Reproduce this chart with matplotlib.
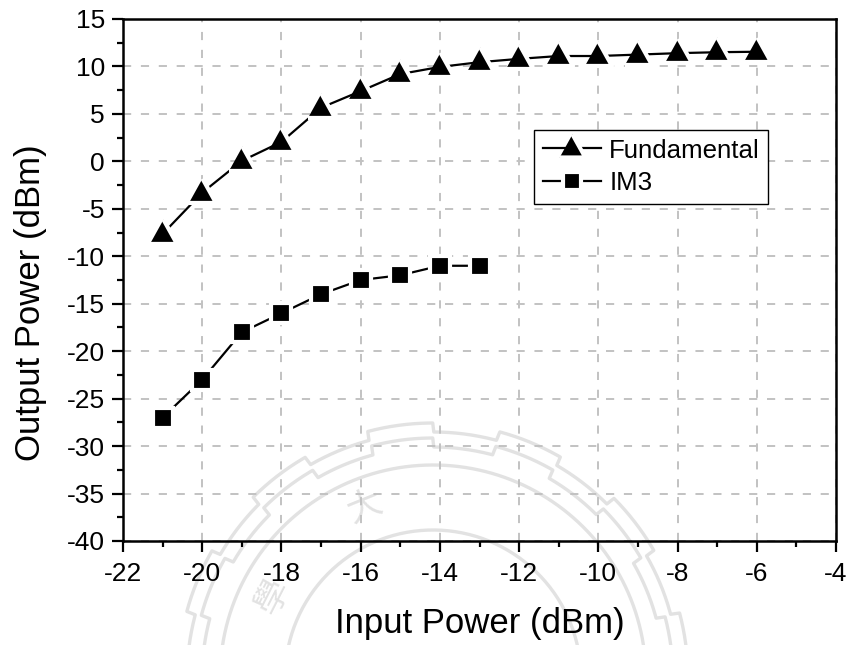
import numpy as np
import matplotlib
matplotlib.use('Agg')
import matplotlib.pyplot as plt
from matplotlib.ticker import MultipleLocator

plt.rcParams['font.family'] = ['Liberation Sans', 'DejaVu Sans']
plt.rcParams['axes.unicode_minus'] = False

# values
input_fund = [-21, -20, -19, -18, -17, -16, -15, -14, -13, -12, -11, -10, -9, -8, -7, -6]
fundamental = [-7.65, -3.3, 0.05, 2.05, 5.65, 7.4, 9.2, 9.95, 10.45, 10.8, 11.1, 11.1, 11.25, 11.4, 11.5, 11.55]
input_im3 = [-21, -20, -19, -18, -17, -16, -15, -14, -13]
im3 = [-27, -23, -18, -16, -14, -12.5, -12, -11, -11]
x_ticks = [-22, -20, -18, -16, -14, -12, -10, -8, -6, -4]
y_ticks = [-40, -35, -30, -25, -20, -15, -10, -5, 0, 5, 10, 15]

W, H = 850, 645
fig = plt.figure(figsize=(W/100, H/100), dpi=100)

# faint scanned-in seal behind the plot, in pixel coordinates
bg = fig.add_axes([0, 0, 1, 1], zorder=0)
bg.set_xlim(0, W)
bg.set_ylim(H, 0)
bg.axis('off')
seal = '#e2e2e2'
cx, cy = 433, 678
t = np.linspace(0, 2*np.pi, 400)
for r in [213, 148]:
    bg.plot(cx + r*np.cos(t), cy + r*np.sin(t), color=seal, lw=2.4)
# stepped outer ring
t2 = np.linspace(0, 2*np.pi, 1440)
for r0 in [246, 231]:
    r = r0 + 9*(np.floor(t2/(2*np.pi/24)) % 2)
    bg.plot(cx + r*np.cos(t2), cy + r*np.sin(t2), color=seal, lw=2.4)
bg.text(365, 508, '大', color=seal, fontsize=25, rotation=22, ha='center', va='center',
        family=['Noto Sans CJK TC', 'DejaVu Sans'])
bg.text(273, 597, '學', color=seal, fontsize=25, rotation=63, ha='center', va='center',
        family=['Noto Sans CJK TC', 'DejaVu Sans'])

ax = fig.add_axes([123/W, 1-541/H, (836-123)/W, (541-19)/H], zorder=1)
ax.patch.set_alpha(0)

ax.grid(True, which='major', color='#c2c2c2', lw=1.4, dashes=(4.2, 5))
ax.set_axisbelow(True)

# triangle sits a little above its point, as in the original
tri = [(-1, -0.7), (1, -0.7), (0, 1.1)]
ax.plot(input_fund, fundamental, '-', marker=tri, color='black', lw=1.6, ms=21.4, mfc='black',
        mec='white', mew=3, label='Fundamental', clip_on=False)
ax.plot(input_im3, im3, '-s', color='black', lw=1.6, ms=14, mfc='black',
        mec='white', mew=3, label='IM3', clip_on=False)

ax.set_xlim(-22, -4)
ax.set_ylim(-40, 15)
ax.set_xticks(x_ticks)
ax.set_yticks(y_ticks)
ax.xaxis.set_minor_locator(MultipleLocator(1))
ax.yaxis.set_minor_locator(MultipleLocator(2.5))
ax.tick_params(which='major', length=8, width=1.6, labelsize=19, pad=7)
ax.tick_params(which='minor', length=4.3, width=1.6)
ax.tick_params(axis='y', which='major', pad=5)
for s in ax.spines.values():
    s.set_linewidth(1.8)

ax.set_xlabel('Input Power (dBm)', fontsize=25)
ax.xaxis.set_label_coords(0.5, -(623-541)/(541-19), transform=ax.transAxes)
ax.xaxis.label.set_verticalalignment('center')
ax.set_ylabel('Output Power (dBm)', fontsize=25)
ax.yaxis.set_label_coords(-(123-31)/(836-123), 1-(303-19)/(541-19), transform=ax.transAxes)
ax.yaxis.label.set_verticalalignment('center')

leg = ax.legend(loc='upper left', bbox_to_anchor=((534-123)/(836-123), 1-(130-19)/(541-19)),
                fontsize=18.6, fancybox=False, framealpha=1, edgecolor='black',
                handlelength=2.25, handletextpad=0.33, borderaxespad=0, borderpad=0.33,
                labelspacing=0.34, markerscale=0.95)
leg.get_frame().set_linewidth(1)

fig.savefig('out.png', dpi=100)
